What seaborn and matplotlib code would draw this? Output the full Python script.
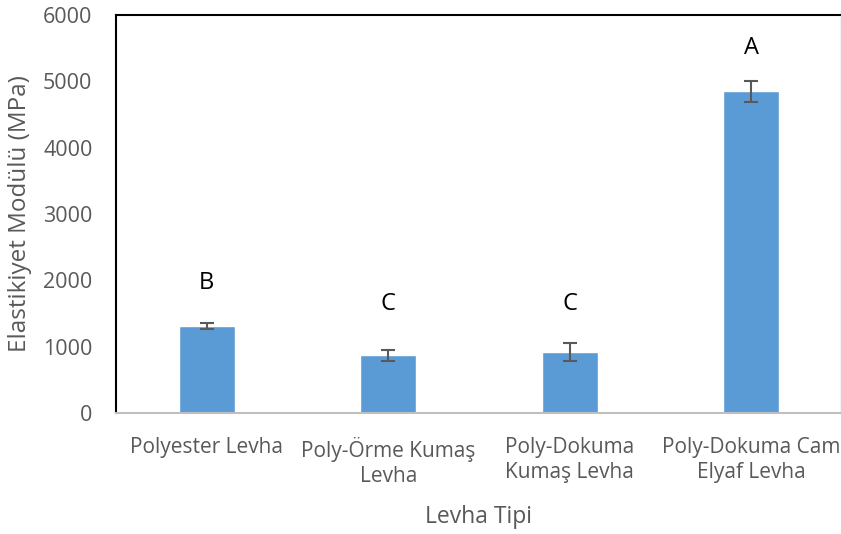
import matplotlib
matplotlib.use("Agg")
import matplotlib.pyplot as plt
import seaborn as sns
import pandas as pd

# values
categories = ["Polyester Levha", "Poly-Örme Kumaş\nLevha", "Poly-Dokuma\nKumaş Levha", "Poly-Dokuma Cam\nElyaf Levha"]
modulus = [1310, 870, 920, 4850]
errors = [40, 85, 130, 155]
groups = ["B", "C", "C", "A"]
group_y = [1960, 1640, 1640, 5500]

BAR_COLOR = "#5B9BD5"
TEXT_GRAY = "#595959"

sns.set_theme(style="white")
plt.rcParams["font.family"] = ["Open Sans", "DejaVu Sans"]

df = pd.DataFrame({"tip": categories, "modul": modulus})

fig = plt.figure(figsize=(8.41, 5.34), dpi=100)
ax = fig.add_axes([0.138, 0.2266, 0.863, 0.7454])

sns.barplot(data=df, x="tip", y="modul", color=BAR_COLOR, width=0.31,
            saturation=1, errorbar=None, ax=ax)
ax.errorbar(range(len(categories)), modulus, yerr=errors, fmt="none",
            ecolor=TEXT_GRAY, elinewidth=1.5, capsize=5, capthick=1.5)

for i, (g, gy) in enumerate(zip(groups, group_y)):
    ax.text(i, gy, g, ha="center", va="center", fontsize=17, color="black")

ax.set_ylim(0, 6000)
ax.set_xlim(-0.5, len(categories) - 0.5)
ax.set_yticks(range(0, 6001, 1000))
ax.tick_params(axis="both", length=0, labelcolor=TEXT_GRAY)
ax.tick_params(axis="x", pad=17, labelsize=15)
ax.tick_params(axis="y", pad=17, labelsize=15.5)
for lbl in ax.get_xticklabels():
    lbl.set_linespacing(1.3)

ax.set_xlabel("Levha Tipi", fontsize=16.5, color=TEXT_GRAY, labelpad=13)
ax.set_ylabel("Elastikiyet Modülü (MPa)", fontsize=17.5, color=TEXT_GRAY, labelpad=8)

for side in ["left", "top", "right"]:
    ax.spines[side].set_color("black")
    ax.spines[side].set_linewidth(1.5)
ax.spines["bottom"].set_color("#BFBFBF")
ax.spines["bottom"].set_linewidth(1.5)

fig.savefig("out.png", dpi=100)
